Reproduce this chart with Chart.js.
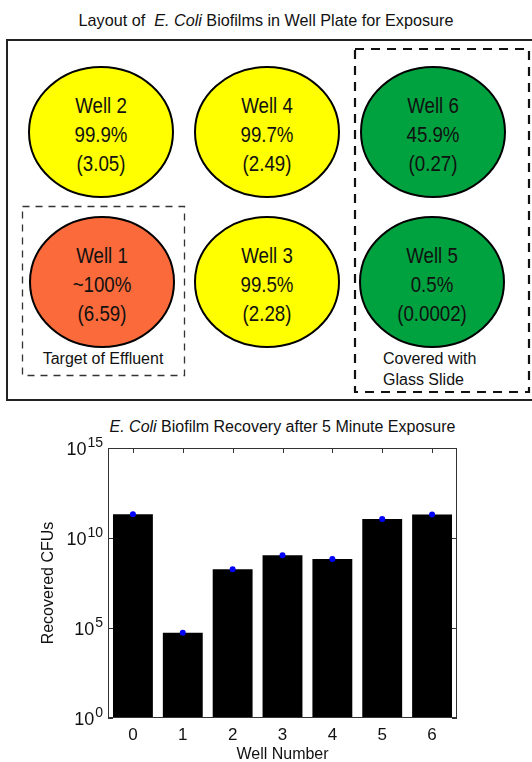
<!DOCTYPE html>
<html>
<head>
<meta charset="utf-8">
<title>E. Coli biofilm exposure</title>
<script src="https://cdn.jsdelivr.net/npm/chart.js@4.4.1/dist/chart.umd.min.js"></script>
<style>
  html, body { margin: 0; padding: 0; background: #fff; overflow: hidden; }
  body {
    width: 532px; height: 762px; position: relative;
    font-family: "Liberation Sans", Arial, sans-serif;
    color: #111;
  }
  #layout { position: absolute; left: 0; top: 0; }
  .title { position: absolute; text-align: center; white-space: nowrap; }
  #plateTitle { left: 0; width: 532px; top: 11px; font-size: 16.2px; }
  #chartTitle { left: 108px; width: 349px; top: 418px; font-size: 16px; }
  #chartBox { position: absolute; left: 0; top: 400px; width: 532px; height: 368px; }
</style>
</head>
<body>

<div id="plateTitle" class="title">Layout of &nbsp;<i>E. Coli</i> Biofilms in Well Plate for Exposure</div>

<svg id="layout" width="532" height="402" xmlns="http://www.w3.org/2000/svg">
  <rect x="7" y="40" width="545" height="360" fill="none" stroke="#222" stroke-width="2"/>
  <rect x="22.5" y="206.5" width="162" height="169" fill="none" stroke="#333" stroke-width="1.3" stroke-dasharray="7 6"/>
  <rect x="355" y="49" width="174" height="343" fill="none" stroke="#111" stroke-width="2.2" stroke-dasharray="9 7"/>
  <g id="wells"></g>
  <text x="103" y="364" text-anchor="middle" font-size="16" fill="#111">Target of Effluent</text>
  <text x="383" y="364" font-size="16" fill="#111">Covered with</text>
  <text x="383" y="385" font-size="16" fill="#111">Glass Slide</text>
</svg>

<div id="chartTitle" class="title"><i>E. Coli</i> Biofilm Recovery after 5 Minute Exposure</div>

<div id="chartBox"><canvas id="recoveryChart" width="532" height="368"></canvas></div>

<script>
// well plate summary: kill percentage and log reduction per well
const wellIds = [1, 2, 3, 4, 5, 6];
const killPercent = ['~100%', '99.9%', '99.5%', '99.7%', '0.5%', '45.9%'];
const logReduction = ['6.59', '3.05', '2.28', '2.49', '0.0002', '0.27'];

// recovered colony forming units per well (well 0 is the untreated control)
const wellNumbers = ['0', '1', '2', '3', '4', '5', '6'];
const recoveredCFUs = [2.1e11, 5.4e4, 1.86e8, 1.1e9, 6.8e8, 1.15e11, 2.0e11];
const yTickValues = [1, 1e5, 1e10, 1e15];

// plate positions and fills, keyed by well id
const wellSlots = {
  1: { cx: 102, cy: 282, fill: '#fa6a3b' },
  2: { cx: 101, cy: 132, fill: '#ffff00' },
  3: { cx: 267, cy: 282, fill: '#ffff00' },
  4: { cx: 267, cy: 132, fill: '#ffff00' },
  5: { cx: 432, cy: 282, fill: '#00a13f' },
  6: { cx: 433, cy: 132, fill: '#00a13f' }
};

const svgNS = 'http://www.w3.org/2000/svg';
const wellGroup = document.getElementById('wells');

wellIds.forEach((id, i) => {
  const slot = wellSlots[id];
  const ellipse = document.createElementNS(svgNS, 'ellipse');
  ellipse.setAttribute('cx', slot.cx);
  ellipse.setAttribute('cy', slot.cy);
  ellipse.setAttribute('rx', 72);
  ellipse.setAttribute('ry', 65);
  ellipse.setAttribute('fill', slot.fill);
  ellipse.setAttribute('stroke', '#000');
  ellipse.setAttribute('stroke-width', 2);
  wellGroup.appendChild(ellipse);

  // three centred lines, condensed
  const lines = ['Well ' + id, killPercent[i], '(' + logReduction[i] + ')'];
  lines.forEach((txt, k) => {
    const t = document.createElementNS(svgNS, 'text');
    t.setAttribute('transform', `translate(${slot.cx},${slot.cy + 10 + (k - 1) * 29}) scale(0.85,1)`);
    t.setAttribute('text-anchor', 'middle');
    t.setAttribute('font-size', 22);
    t.setAttribute('fill', '#111');
    t.textContent = txt;
    wellGroup.appendChild(t);
  });
});

const fontFamily = '"Liberation Sans", Arial, sans-serif';

// box around the plot, inward tick marks and 10^n labels
const frameAndTicks = {
  id: 'frameAndTicks',
  afterDatasetsDraw(chart) {
    const { ctx, chartArea: a, scales: { x, y } } = chart;
    const len = 5;
    ctx.save();
    ctx.strokeStyle = '#333';
    ctx.lineWidth = 1;
    ctx.strokeRect(a.left + 0.5, a.top + 0.5, a.right - a.left - 1, a.bottom - a.top - 1);

    ctx.beginPath();
    x.ticks.forEach((t, i) => {
      const px = Math.round(x.getPixelForTick(i)) + 0.5;
      ctx.moveTo(px, a.top);
      ctx.lineTo(px, a.top + len);
    });
    y.ticks.forEach(t => {
      const py = Math.round(y.getPixelForValue(t.value)) + 0.5;
      ctx.moveTo(a.left, py);
      ctx.lineTo(a.left + len, py);
      ctx.moveTo(a.right, py);
      ctx.lineTo(a.right - len, py);
    });
    ctx.stroke();

    ctx.fillStyle = '#111';
    ctx.textBaseline = 'alphabetic';
    const xEnd = a.left - 5;
    y.ticks.forEach(t => {
      const py = y.getPixelForValue(t.value);
      const exp = String(Math.round(Math.log10(t.value)));
      ctx.font = '14px ' + fontFamily;
      const supW = ctx.measureText(exp).width;
      ctx.textAlign = 'left';
      ctx.fillText(exp, xEnd - supW, py - 1);
      ctx.font = '18px ' + fontFamily;
      ctx.textAlign = 'right';
      ctx.fillText('10', xEnd - supW - 1, py + 7);
    });
    ctx.restore();
  }
};

new Chart(document.getElementById('recoveryChart'), {
  type: 'bar',
  data: {
    labels: wellNumbers,
    datasets: [
      {
        type: 'line',
        data: recoveredCFUs,
        showLine: false,
        pointRadius: 3,
        pointBorderWidth: 0,
        pointBackgroundColor: '#0000ff',
        order: 0
      },
      {
        data: recoveredCFUs,
        backgroundColor: '#000',
        barPercentage: 0.8,
        categoryPercentage: 1,
        order: 1
      }
    ]
  },
  options: {
    responsive: false,
    animation: false,
    layout: { padding: { top: 48, right: 75, left: 0, bottom: 0 } },
    plugins: {
      legend: { display: false },
      tooltip: { enabled: false }
    },
    scales: {
      x: {
        grid: { display: false, drawTicks: false },
        border: { display: false },
        ticks: { color: '#111', font: { size: 17, family: fontFamily }, padding: 7 },
        title: {
          display: true, text: 'Well Number', color: '#111',
          font: { size: 16, family: fontFamily }, padding: { top: 0, bottom: 4 }
        },
        afterFit: s => { s.height = 50; }
      },
      y: {
        type: 'logarithmic',
        min: 1,
        max: 1e15,
        afterBuildTicks: s => { s.ticks = yTickValues.map(v => ({ value: v })); },
        ticks: { display: false },
        grid: { display: false, drawTicks: false },
        border: { display: false },
        title: {
          display: true, text: 'Recovered CFUs', color: '#111',
          font: { size: 16, family: fontFamily }, padding: { top: 39, bottom: 0 }
        },
        afterFit: s => { s.width = 108; }
      }
    }
  },
  plugins: [frameAndTicks]
});
</script>
</body>
</html>
